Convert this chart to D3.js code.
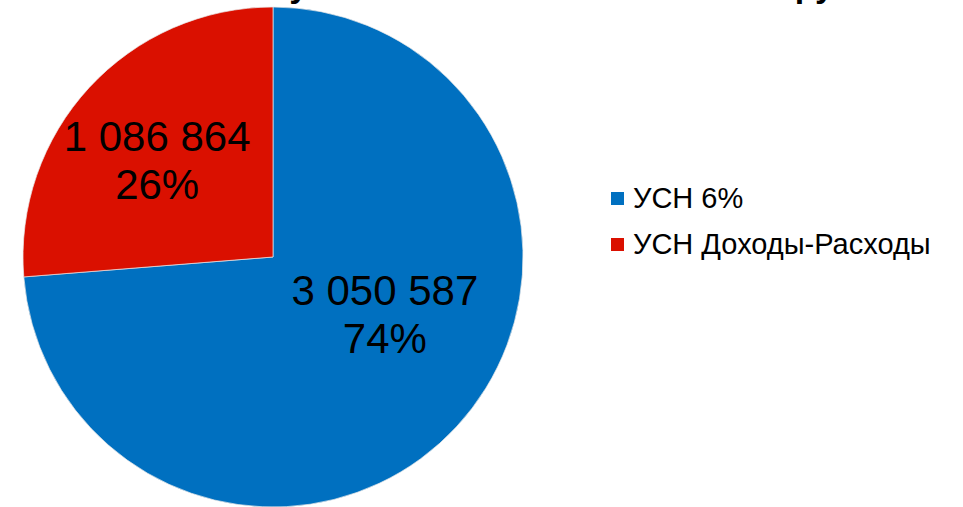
<html>
<head>
<script src="https://d3js.org/d3.v7.min.js"></script>
<style>
  body { margin: 0; background: #fff; }
  svg { display: block; font-family: Arial, "Liberation Sans", sans-serif; }
</style>
</head>
<body>
<svg width="963" height="507"></svg>
<script>
// data
var categories = ["УСН 6%", "УСН Доходы-Расходы"];
var values = [3050587, 1086864];
var valueLabels = ["3 050 587", "1 086 864"];
var percentLabels = ["74%", "26%"];
var colors = ["#0070c0", "#da1000"];
var title = "Поступления налогов от УСН тыс. руб.";

var svg = d3.select("svg");
var cx = 273, cy = 257, radius = 250;

// title, mostly above the visible area (cut off like the original)
svg.append("text")
  .attr("x", 208)
  .attr("y", -3)
  .style("font-size", "34px")
  .style("font-weight", "bold")
  .text(title);

var pie = d3.pie().sort(null).startAngle(0).endAngle(2 * Math.PI);
var arcs = pie(values);
var arc = d3.arc().innerRadius(0).outerRadius(radius);

var g = svg.append("g").attr("transform", "translate(" + cx + "," + cy + ")");

g.selectAll("path").data(arcs).enter().append("path")
  .attr("d", arc)
  .attr("fill", function(d, i) { return colors[i]; })
  .attr("stroke", "#e8e8e8")
  .attr("stroke-width", 0.7);

// labels: placed along mid-angle, nudged like the original
var labelArc = d3.arc().innerRadius(0).outerRadius(radius);
var nudge = [[20, -37], [-24, -21]];

var labels = g.selectAll("text.lbl").data(arcs).enter().append("text")
  .attr("class", "lbl")
  .attr("text-anchor", "middle")
  .style("font-size", "42px")
  .attr("fill", "#000")
  .attr("transform", function(d, i) {
    var c = labelArc.centroid(d);
    return "translate(" + (c[0] + nudge[i][0]) + "," + (c[1] + nudge[i][1]) + ")";
  });

labels.append("tspan").attr("x", 0).attr("y", 0)
  .text(function(d, i) { return valueLabels[i]; });
labels.append("tspan").attr("x", 0).attr("y", 48)
  .text(function(d, i) { return percentLabels[i]; });

// legend
var legend = svg.append("g").attr("transform", "translate(611,192)");
var rows = legend.selectAll("g").data(categories).enter().append("g")
  .attr("transform", function(d, i) { return "translate(0," + (i * 46) + ")"; });
rows.append("rect")
  .attr("width", 13).attr("height", 13)
  .attr("fill", function(d, i) { return colors[i]; });
rows.append("text")
  .attr("x", 22).attr("y", 16)
  .style("font-size", "29px")
  .text(function(d) { return d; });
</script>
</body>
</html>
